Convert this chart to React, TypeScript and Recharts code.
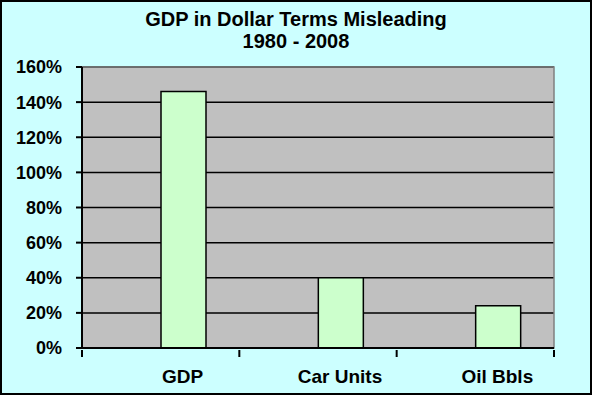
import { BarChart, Bar, XAxis, YAxis, CartesianGrid, ReferenceArea } from "recharts"

const categories = ["GDP", "Car Units", "Oil Bbls"]
const growth = [146, 40, 24]
const yTicks = [0, 20, 40, 60, 80, 100, 120, 140, 160]
const titleLines = ["GDP in Dollar Terms Misleading", "1980 - 2008"]

const data = categories.map((name, i) => ({ name, growth: growth[i] }))

const FONT = "'Liberation Sans', Arial, sans-serif"

// x-axis: ticks sit on category boundaries, labels sit under the bars
function CategoryTick(props: any) {
  const { x, y, payload, index } = props
  const half = payload?.offset || 78.67
  return (
    <g>
      <line x1={x - half} y1={y} x2={x - half} y2={y + 7} stroke="#000" strokeWidth={2} />
      {index === categories.length - 1 && (
        <line x1={x + half} y1={y} x2={x + half} y2={y + 7} stroke="#000" strokeWidth={2} />
      )}
      <text x={x + 22} y={y + 33} textAnchor="middle" fontFamily={FONT} fontWeight="bold" fontSize={19} fill="#000">
        {payload.value}
      </text>
    </g>
  )
}

export default function App() {
  return (
    <div style={{ position: "fixed", left: 0, top: 0, width: 592, height: 395, background: "#CCFFFF" }}>
      <div
        style={{
          position: "absolute",
          left: 0,
          top: 8,
          width: 592,
          textAlign: "center",
          fontFamily: FONT,
          fontWeight: "bold",
          fontSize: 20,
          lineHeight: "22px",
        }}
      >
        {titleLines.map((t) => (
          <div key={t}>{t}</div>
        ))}
      </div>
      <BarChart
        width={592}
        height={395}
        data={data}
        margin={{ top: 67, right: 38, left: 0, bottom: 7 }}
        barGap={0}
        style={{ position: "absolute", left: 0, top: 0 }}
      >
        <CartesianGrid vertical={false} stroke="#000" strokeWidth={1.5} fill="#C0C0C0" fillOpacity={1} />
        <ReferenceArea y1={0} y2={160} fill="none" stroke="#808080" strokeWidth={1.5} />
        <XAxis
          dataKey="name"
          height={40}
          tickSize={0}
          tickLine={false}
          axisLine={{ stroke: "#000", strokeWidth: 2 }}
          tick={<CategoryTick />}
          interval={0}
        />
        <YAxis
          width={82}
          domain={[0, 160]}
          ticks={yTicks}
          tickSize={6}
          tickMargin={14}
          tickLine={{ stroke: "#000", strokeWidth: 2 }}
          axisLine={{ stroke: "#000", strokeWidth: 2 }}
          tickFormatter={(v) => `${v}%`}
          tick={{ fill: "#000", fontFamily: FONT, fontWeight: "bold", fontSize: 18 }}
        />
        <Bar dataKey="blank" barSize={45} isAnimationActive={false} />
        <Bar dataKey="growth" barSize={45} fill="#CCFFCC" stroke="#000" strokeWidth={1.5} isAnimationActive={false} />
      </BarChart>
      <div
        style={{
          position: "absolute",
          left: 0,
          top: 0,
          width: 592,
          height: 395,
          boxSizing: "border-box",
          border: "2px solid #000",
          pointerEvents: "none",
        }}
      />
    </div>
  )
}
